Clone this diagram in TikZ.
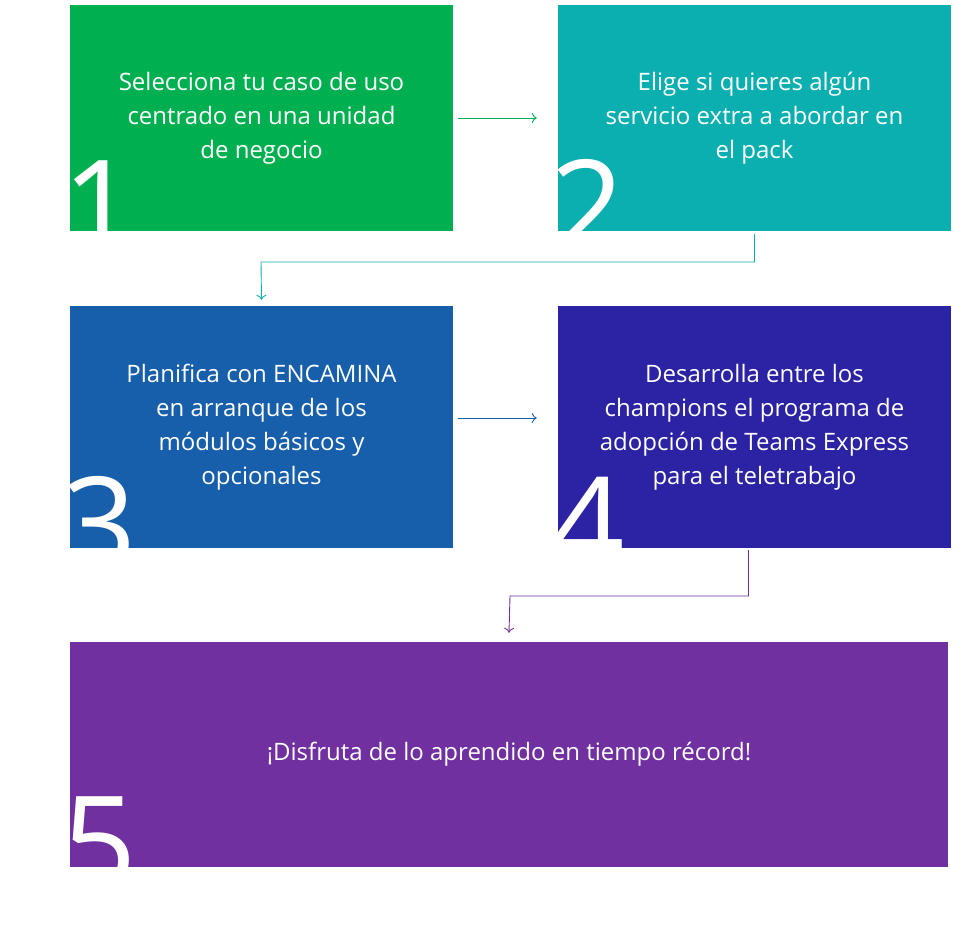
\documentclass[tikz,border=0pt]{standalone}
\usepackage{fontspec}
\setmainfont{Open Sans}
\usetikzlibrary{arrows.meta,positioning}
\definecolor{cgreen}{HTML}{00B050}
\definecolor{cteal}{HTML}{0BAFAF}
\definecolor{cblue}{HTML}{175EAB}
\definecolor{cindigo}{HTML}{2B23A3}
\definecolor{cpurple}{HTML}{7030A0}
\tikzset{
  stepbox/.style={rectangle, inner sep=0pt, text=white, align=center, font=\fontsize{24}{34}\selectfont},
  digit/.style={text=white, inner sep=0pt, anchor=base west, font=\fontsize{130}{130}\selectfont},
  flow/.style={-{To[length=5pt,width=10pt]}, line width=0.9pt}
}
\newcommand{\bignum}[2]{%
  \begin{scope}
    \clip (#1.south west) rectangle (#1.north east);
    \node[digit] (n#2) at ([xshift=-8pt,yshift=-22pt]#1.south west) {#2};
  \end{scope}}
\begin{document}
\begin{tikzpicture}[x=1pt,y=-1pt]
  \useasboundingbox (0,0) rectangle (962,951);
  \node[stepbox, fill=cgreen, minimum width=383pt, minimum height=226pt] (s1) at (261.5,118) {Selecciona tu caso de uso\\centrado en una unidad\\de negocio};
  \node[stepbox, fill=cteal, minimum width=393pt, minimum height=226pt] (s2) at (754.5,118) {Elige si quieres algún\\servicio extra a abordar en\\el pack};
  \node[stepbox, fill=cblue, minimum width=383pt, minimum height=242pt] (s3) at (261.5,427) {Planifica con ENCAMINA\\en arranque de los\\módulos básicos y\\opcionales};
  \node[stepbox, fill=cindigo, minimum width=393pt, minimum height=242pt] (s4) at (754.5,427) {Desarrolla entre los\\champions el programa de\\adopción de Teams Express\\para el teletrabajo};
  \node[stepbox, fill=cpurple, minimum width=878pt, minimum height=225pt] (s5) at (509,754.5) {¡Disfruta de lo aprendido en tiempo récord!};
  \bignum{s1}{1}
  \bignum{s2}{2}
  \bignum{s3}{3}
  \bignum{s4}{4}
  \bignum{s5}{5}
  % connectors
  \draw[flow, cgreen] ([xshift=5pt]s1.east) -- ([xshift=-21pt]s2.west);
  \draw[flow, cteal] ([yshift=-3pt]s2.south) |- (261,262) -- ([yshift=6pt]s3.north);
  \draw[flow, cblue] ([xshift=5pt,yshift=9pt]s3.east) -- ([xshift=-21pt,yshift=9pt]s4.west);
  \draw[flow, cpurple] ([xshift=-6pt,yshift=-2pt]s4.south) |- (510,596) -- ([yshift=9pt]s5.north);
\end{tikzpicture}
\end{document}
